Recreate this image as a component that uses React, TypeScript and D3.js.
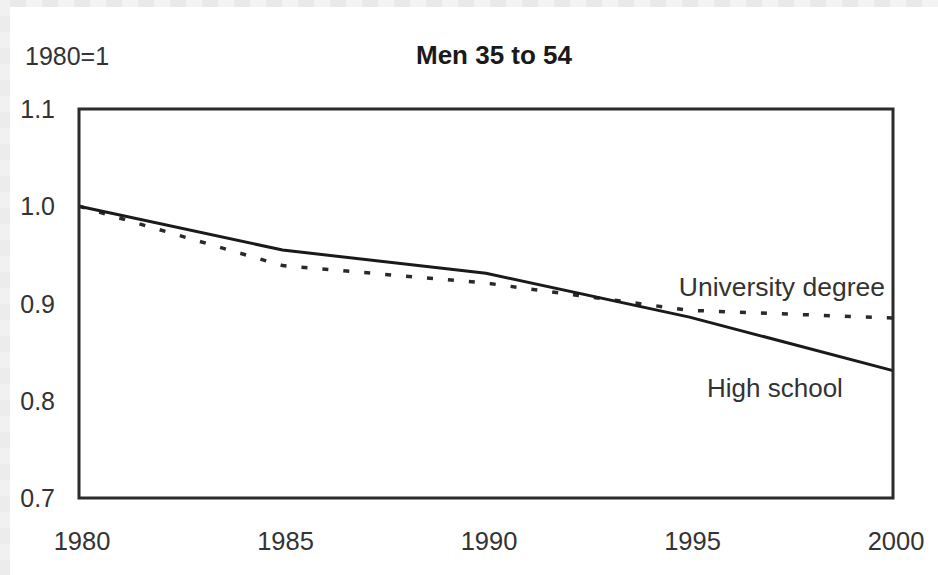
import React, { useEffect, useRef } from 'react';
import * as d3 from 'd3';

// chart values
const years = [1980, 1985, 1990, 1995, 2000];
const highSchool = [1.0, 0.955, 0.931, 0.886, 0.831];
const university = [1.0, 0.939, 0.921, 0.893, 0.885];
const yTicks = [0.7, 0.8, 0.9, 1.0, 1.1];
const xTicks = [1980, 1985, 1990, 1995, 2000];
const title = 'Men 35 to 54';
const unitLabel = '1980=1';

interface Point {
  year: number;
  value: number;
}

const W = 938;
const H = 575;
const FONT = '"Liberation Sans", Arial, sans-serif';

const App: React.FC = () => {
  const svgRef = useRef<SVGSVGElement>(null);

  useEffect(() => {
    if (!svgRef.current) return;
    const svg = d3.select(svgRef.current);
    svg.selectAll('*').remove();

    // page background with light checker strip on top and left
    svg.append('rect').attr('width', W).attr('height', H).attr('fill', '#ffffff');
    for (let i = 0; i * 16 < W; i++) {
      svg.append('rect')
        .attr('x', 10 + i * 16).attr('y', 0)
        .attr('width', 16).attr('height', 7)
        .attr('fill', i % 2 === 0 ? '#e9e9e9' : '#f3f3f3');
    }
    for (let j = 0; j * 16 < H; j++) {
      svg.append('rect')
        .attr('x', 0).attr('y', j * 16)
        .attr('width', 10).attr('height', 16)
        .attr('fill', j % 2 === 0 ? '#f1f1f1' : '#ececec');
    }

    const margin = { top: 109, right: 45, bottom: 77, left: 79 };
    const innerWidth = W - margin.left - margin.right;
    const innerHeight = H - margin.top - margin.bottom;

    const g = svg.append('g')
      .attr('transform', `translate(${margin.left},${margin.top})`);

    const xScale = d3.scaleLinear().domain([1980, 2000]).range([0, innerWidth]);
    const yScale = d3.scaleLinear().domain([0.7, 1.1]).range([innerHeight, 0]);

    const line = d3.line<Point>()
      .x(d => xScale(d.year))
      .y(d => yScale(d.value));

    const hsData: Point[] = years.map((y, i) => ({ year: y, value: highSchool[i] }));
    const uniData: Point[] = years.map((y, i) => ({ year: y, value: university[i] }));

    g.append('path')
      .datum(uniData)
      .attr('d', line)
      .attr('fill', 'none')
      .attr('stroke', '#2a2a2a')
      .attr('stroke-width', 3.5)
      .attr('stroke-dasharray', '6 15');

    g.append('path')
      .datum(hsData)
      .attr('d', line)
      .attr('fill', 'none')
      .attr('stroke', '#1a1a1a')
      .attr('stroke-width', 3);

    // frame
    g.append('rect')
      .attr('x', 0).attr('y', 0)
      .attr('width', innerWidth).attr('height', innerHeight)
      .attr('fill', 'none')
      .attr('stroke', '#2b2b2b')
      .attr('stroke-width', 3);

    // y tick labels
    g.selectAll('.ytick')
      .data(yTicks)
      .enter().append('text')
      .attr('x', -24)
      .attr('y', d => yScale(d))
      .attr('dy', '0.36em')
      .attr('text-anchor', 'end')
      .attr('font-family', FONT)
      .attr('font-size', 25)
      .attr('fill', '#333')
      .text(d => d.toFixed(1));

    // x tick labels
    g.selectAll('.xtick')
      .data(xTicks)
      .enter().append('text')
      .attr('x', d => xScale(d) + 3)
      .attr('y', innerHeight + 52)
      .attr('text-anchor', 'middle')
      .attr('font-family', FONT)
      .attr('font-size', 25.5)
      .attr('fill', '#333')
      .text(d => String(d));

    // series labels
    g.append('text')
      .attr('x', xScale(2000) - 8)
      .attr('y', yScale(0.9) - 8)
      .attr('text-anchor', 'end')
      .attr('font-family', FONT)
      .attr('font-size', 26.5)
      .attr('fill', '#333')
      .text('University degree');

    g.append('text')
      .attr('x', xScale(1997.1))
      .attr('y', yScale(0.8) - 4)
      .attr('text-anchor', 'middle')
      .attr('font-family', FONT)
      .attr('font-size', 26)
      .attr('fill', '#333')
      .text('High school');

    // unit and title
    svg.append('text')
      .attr('x', 25)
      .attr('y', 65)
      .attr('font-family', FONT)
      .attr('font-size', 25)
      .attr('fill', '#333')
      .text(unitLabel);

    svg.append('text')
      .attr('x', 494)
      .attr('y', 64)
      .attr('text-anchor', 'middle')
      .attr('font-family', FONT)
      .attr('font-weight', 'bold')
      .attr('font-size', 26)
      .attr('fill', '#1a1a1a')
      .text(title);
  }, []);

  return (
    <div style={{ position: 'fixed', left: 0, top: 0 }}>
      <svg ref={svgRef} width={W} height={H} style={{ display: 'block' }}></svg>
    </div>
  );
};

export default App;
